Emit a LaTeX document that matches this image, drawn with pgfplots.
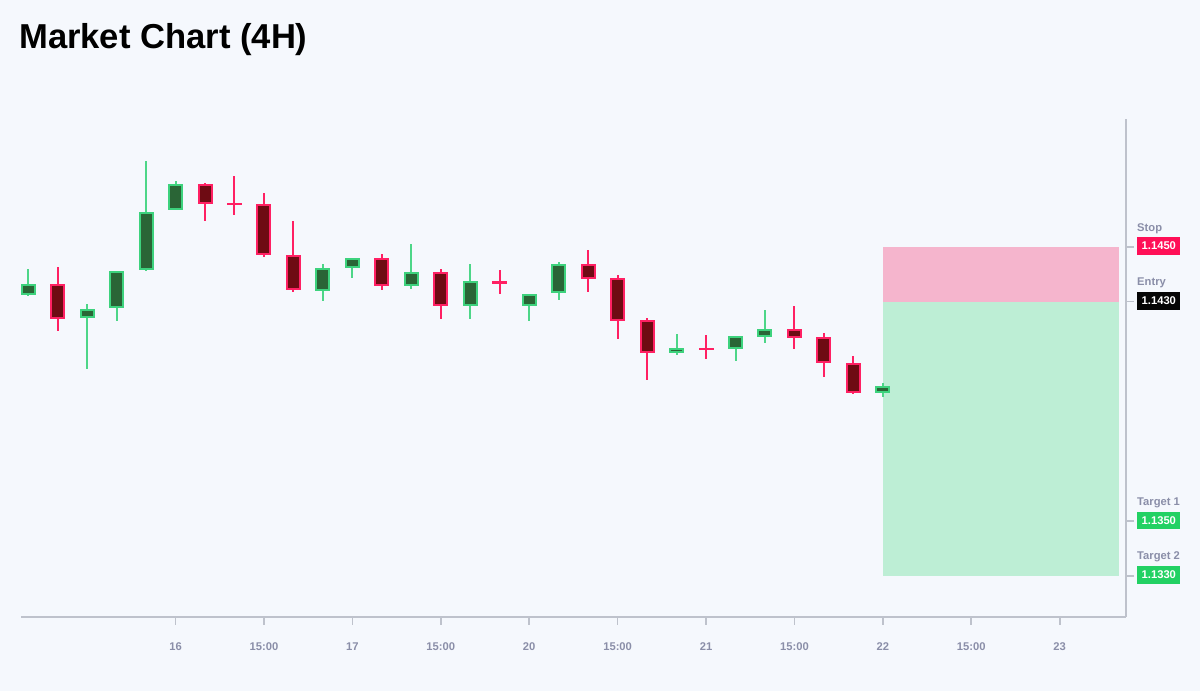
\documentclass[border=0pt]{standalone}
\usepackage{pgfplots}
\pgfplotsset{compat=1.18}
\usepackage{pgfplotstable}
\usepackage{fontspec}
\setmainfont{Liberation Sans}
\definecolor{bg}{HTML}{F5F8FD}
\definecolor{axiscol}{HTML}{BEC2CC}
\definecolor{labgray}{HTML}{8A8EA8}
\definecolor{gborder}{HTML}{3DD27D}
\definecolor{gfill}{HTML}{2A6536}
\definecolor{gwick}{HTML}{4DD688}
\definecolor{rborder}{HTML}{FF2063}
\definecolor{rfill}{HTML}{6E0B13}
\definecolor{stopc}{HTML}{FF0F57}
\definecolor{entryc}{HTML}{050505}
\definecolor{tgtc}{HTML}{22D163}
\definecolor{pinkz}{HTML}{F5B5CD}
\definecolor{greenz}{HTML}{BDEED5}

\pgfplotstableread{
x open high low close
0 1.14324 1.14419 1.14320 1.14364
2 1.14240 1.14292 1.14054 1.14275
3 1.14276 1.14413 1.14229 1.14412
4 1.14414 1.14814 1.14413 1.14627
5 1.14635 1.14740 1.14634 1.14731
10 1.14341 1.14439 1.14305 1.14423
11 1.14422 1.14461 1.14386 1.14460
13 1.14356 1.14512 1.14348 1.14407
15 1.14286 1.14437 1.14237 1.14376
17 1.14284 1.14330 1.14230 1.14329
18 1.14330 1.14444 1.14307 1.14436
22 1.14113 1.14182 1.14105 1.14131
24 1.14126 1.14176 1.14084 1.14175
25 1.14173 1.14270 1.14151 1.14202
29 1.13966 1.14005 1.13951 1.13993
}\bulltable

\pgfplotstableread{
x open high low close
1 1.14365 1.14427 1.14193 1.14239
6 1.14730 1.14733 1.14596 1.14656
7 1.14660 1.14758 1.14617 1.14653
8 1.14656 1.14697 1.14465 1.14470
9 1.14472 1.14595 1.14334 1.14342
12 1.14459 1.14473 1.14342 1.14357
14 1.14408 1.14419 1.14237 1.14285
16 1.14377 1.14415 1.14327 1.14367
19 1.14436 1.14487 1.14334 1.14383
20 1.14385 1.14396 1.14164 1.14229
21 1.14232 1.14243 1.14016 1.14111
23 1.14133 1.14177 1.14089 1.14125
26 1.14202 1.14284 1.14127 1.14167
27 1.14170 1.14186 1.14024 1.14075
28 1.14075 1.14101 1.13964 1.13966
}\beartable

\newcommand{\plabel}[4]{\makebox[0pt][l]{\raisebox{#4}[0pt][0pt]{\textcolor{labgray}{\bfseries #1}}}{\setlength{\fboxsep}{2.25pt}\colorbox{#2}{\rule[-0.42pt]{0pt}{4.43pt}\textcolor{white}{\bfseries #3}}}}

\begin{document}
\begin{tikzpicture}
\useasboundingbox (0,0) rectangle (600pt,345.5pt);
\fill[bg] (0,0) rectangle (600pt,345.5pt);
\node[anchor=base west, inner sep=0pt] at (9.4pt,321.35pt) {\fontsize{17.3}{20}\selectfont\bfseries Market Chart (4H)};
\begin{axis}[
  at={(10.5pt,37.15pt)}, anchor=south west,
  scale only axis, width=552.5pt, height=248.85pt,
  xmin=-0.244, xmax=37.25, ymin=1.131505, ymax=1.149658,
  axis x line=bottom, axis y line=right,
  axis line style={draw=axiscol, line width=0.9pt, -},
  tick align=outside, major tick length=4pt,
  tick style={draw=axiscol, line width=0.8pt},
  minor tick num=0,
  scaled y ticks=false, scaled x ticks=false,
  xtick={5,8,11,14,17,20,23,26,29,32,35},
  xticklabels={16,15:00,17,15:00,20,15:00,21,15:00,22,15:00,23},
  xticklabel style={font=\fontsize{5.6}{6.7}\selectfont\bfseries, text=labgray, inner sep=0pt, anchor=north, yshift=-8.9pt},
  ytick={1.1330,1.1350,1.1430,1.1450},
  yticklabels={
    {\plabel{Target 2}{tgtc}{1.1330}{9.5pt}},
    {\plabel{Target 1}{tgtc}{1.1350}{9.5pt}},
    {\plabel{Entry}{entryc}{1.1430}{9.6pt}},
    {\plabel{Stop}{stopc}{1.1450}{9.35pt}}},
  yticklabel style={font=\fontsize{5.6}{6.7}\selectfont, inner sep=0pt, anchor=west, xshift=1.4pt, yshift=0.2pt},
]
% trade zones
\addplot[fill=pinkz, draw=none, forget plot] coordinates {(29,1.1430) (37,1.1430) (37,1.1450) (29,1.1450)} -- cycle;
\addplot[fill=greenz, draw=none, forget plot] coordinates {(29,1.1330) (37,1.1330) (37,1.1430) (29,1.1430)} -- cycle;
% wicks
\addplot[draw=none, mark=none, forget plot, error bars/.cd, y dir=both, y explicit, error mark=none,
  error bar style={draw=gwick, line width=1pt}]
  table[x=x, y expr=(\thisrow{high}+\thisrow{low})/2, y error expr=(\thisrow{high}-\thisrow{low})/2] {\bulltable};
\addplot[draw=none, mark=none, forget plot, error bars/.cd, y dir=both, y explicit, error mark=none,
  error bar style={draw=rborder, line width=1pt}]
  table[x=x, y expr=(\thisrow{high}+\thisrow{low})/2, y error expr=(\thisrow{high}-\thisrow{low})/2] {\beartable};
% bodies: border
\addplot[draw=none, mark=none, forget plot, error bars/.cd, y dir=both, y explicit, error mark=none,
  error bar style={draw=gborder, line width=7.5pt}]
  table[x=x, y expr=(\thisrow{open}+\thisrow{close})/2, y error expr={max(abs(\thisrow{close}-\thisrow{open})/2,0.0000365)}] {\bulltable};
\addplot[draw=none, mark=none, forget plot, error bars/.cd, y dir=both, y explicit, error mark=none,
  error bar style={draw=rborder, line width=7.5pt}]
  table[x=x, y expr=(\thisrow{open}+\thisrow{close})/2, y error expr={max(abs(\thisrow{close}-\thisrow{open})/2,0.0000365)}] {\beartable};
% bodies: fill
\addplot[draw=none, mark=none, forget plot, error bars/.cd, y dir=both, y explicit, error mark=none,
  error bar style={draw=gfill, line width=5.5pt}]
  table[x=x, y expr=(\thisrow{open}+\thisrow{close})/2, y error expr={max(abs(\thisrow{close}-\thisrow{open})/2-0.000073,0)}] {\bulltable};
\addplot[draw=none, mark=none, forget plot, error bars/.cd, y dir=both, y explicit, error mark=none,
  error bar style={draw=rfill, line width=5.5pt}]
  table[x=x, y expr=(\thisrow{open}+\thisrow{close})/2, y error expr={max(abs(\thisrow{close}-\thisrow{open})/2-0.000073,0)}] {\beartable};
\end{axis}
\end{tikzpicture}
\end{document}
